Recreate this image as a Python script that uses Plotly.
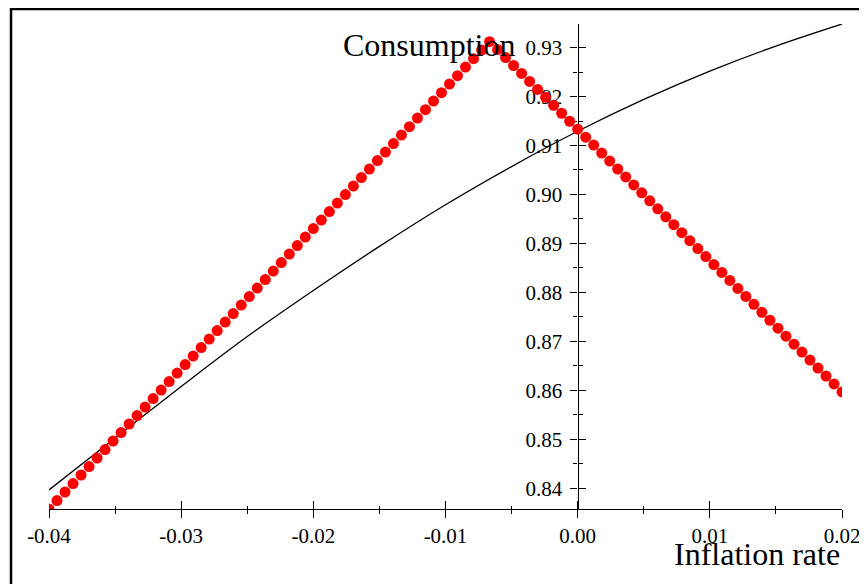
import plotly.graph_objects as go

# ---- data ----
curve_x = [-0.04, -0.035, -0.03, -0.025, -0.02, -0.015, -0.01, -0.005, 0.0, 0.005, 0.01, 0.015, 0.02]
curve_y = [0.8397, 0.8503, 0.8608, 0.8710, 0.8804, 0.8894, 0.8979, 0.9057, 0.9129, 0.9194, 0.9252, 0.9303, 0.9348]

dot_x = [-0.04, -0.039394, -0.038788, -0.038182, -0.037576, -0.03697, -0.036364, -0.035758, -0.035152, -0.034545,
         -0.033939, -0.033333, -0.032727, -0.032121, -0.031515, -0.030909, -0.030303, -0.029697, -0.029091, -0.028485,
         -0.027879, -0.027273, -0.026667, -0.026061, -0.025455, -0.024848, -0.024242, -0.023636, -0.02303, -0.022424,
         -0.021818, -0.021212, -0.020606, -0.02, -0.019394, -0.018788, -0.018182, -0.017576, -0.01697, -0.016364,
         -0.015758, -0.015152, -0.014545, -0.013939, -0.013333, -0.012727, -0.012121, -0.011515, -0.010909, -0.010303,
         -0.009697, -0.009091, -0.008485, -0.007879, -0.007273, -0.006667, -0.006061, -0.005455, -0.004848, -0.004242,
         -0.003636, -0.00303, -0.002424, -0.001818, -0.001212, -0.000606, 0.0, 0.000606, 0.001212, 0.001818,
         0.002424, 0.00303, 0.003636, 0.004242, 0.004848, 0.005455, 0.006061, 0.006667, 0.007273, 0.007879,
         0.008485, 0.009091, 0.009697, 0.010303, 0.010909, 0.011515, 0.012121, 0.012727, 0.013333, 0.013939,
         0.014545, 0.015152, 0.015758, 0.016364, 0.01697, 0.017576, 0.018182, 0.018788, 0.019394, 0.02]
dot_y = [0.8358, 0.83753, 0.83927, 0.841, 0.84274, 0.84447, 0.84621, 0.84794, 0.84968, 0.85141,
         0.85315, 0.85488, 0.85661, 0.85835, 0.86008, 0.86182, 0.86355, 0.86529, 0.86702, 0.86876,
         0.87049, 0.87223, 0.87396, 0.87569, 0.87743, 0.87916, 0.8809, 0.88263, 0.88437, 0.8861,
         0.88784, 0.88957, 0.89131, 0.89304, 0.89477, 0.89651, 0.89824, 0.89998, 0.90171, 0.90345,
         0.90518, 0.90692, 0.90865, 0.91039, 0.91212, 0.91385, 0.91559, 0.91732, 0.91906, 0.92079,
         0.92253, 0.92426, 0.926, 0.92773, 0.92947, 0.9312, 0.92958, 0.92795, 0.92633, 0.9247,
         0.92308, 0.92145, 0.91983, 0.9182, 0.91658, 0.91495, 0.91333, 0.9117, 0.91008, 0.90845,
         0.90683, 0.9052, 0.90358, 0.90195, 0.90033, 0.8987, 0.89708, 0.89545, 0.89383, 0.8922,
         0.89058, 0.88895, 0.88733, 0.8857, 0.88408, 0.88245, 0.88083, 0.8792, 0.87758, 0.87595,
         0.87433, 0.8727, 0.87108, 0.86945, 0.86783, 0.8662, 0.86458, 0.86295, 0.86133, 0.8597]

x_ticks = [-0.04, -0.03, -0.02, -0.01, 0.0, 0.01, 0.02]
x_tick_labels = ["-0.04", "-0.03", "-0.02", "-0.01", "0.00", "0.01", "0.02"]
x_minor = [-0.035, -0.025, -0.015, -0.005, 0.005, 0.015]
y_ticks = [0.84, 0.85, 0.86, 0.87, 0.88, 0.89, 0.90, 0.91, 0.92, 0.93]
y_tick_labels = ["0.84", "0.85", "0.86", "0.87", "0.88", "0.89", "0.90", "0.91", "0.92", "0.93"]
y_minor = [0.845, 0.855, 0.865, 0.875, 0.885, 0.895, 0.905, 0.915, 0.925]

x_range = [-0.04, 0.02]
y_range = [0.8358, 0.9348]

x_title = "Inflation rate"
y_title = "Consumption"

FONT = "Liberation Serif"

fig = go.Figure()
fig.add_trace(go.Scatter(x=curve_x, y=curve_y, mode="lines",
                         line=dict(color="black", width=1.3, shape="spline"),
                         xaxis="x", yaxis="y", showlegend=False, hoverinfo="skip"))
fig.add_trace(go.Scatter(x=dot_x, y=dot_y, mode="markers",
                         marker=dict(color="#ff0000", size=11, line=dict(width=0)),
                         xaxis="x2", yaxis="y2", showlegend=False))

tickfont = dict(family=FONT, size=21, color="black")

# page body has an 8px margin: the figure is sized/offset accordingly
fig.update_layout(
    width=859, height=576,
    margin=dict(l=41, r=25, t=16, b=75, autoexpand=False),
    paper_bgcolor="white", plot_bgcolor="white",
    showlegend=False,
    xaxis=dict(domain=[0, 1], range=x_range, anchor="y", showline=True, linecolor="black", linewidth=1.4,
               ticks="outside", ticklen=8, tickwidth=1.3, tickcolor="black",
               tickmode="array", tickvals=x_ticks, ticktext=x_tick_labels, tickfont=tickfont,
               minor=dict(ticks="outside", ticklen=3.5, tickwidth=1.3, tickcolor="black",
                          tickmode="array", tickvals=x_minor),
               showgrid=False, zeroline=False, layer="below traces"),
    xaxis2=dict(overlaying="x", range=x_range, anchor="y2", side="bottom", showline=False,
                ticks="inside", ticklen=8, tickwidth=1.3, tickcolor="black",
                tickmode="array", tickvals=x_ticks, showticklabels=False,
                minor=dict(ticks="inside", ticklen=3.5, tickwidth=1.3, tickcolor="black",
                           tickmode="array", tickvals=x_minor),
                showgrid=False, zeroline=False, layer="below traces"),
    yaxis=dict(domain=[0, 1], range=y_range, anchor="free", position=2/3, side="left",
               showline=True, linecolor="black", linewidth=1.4,
               ticks="outside", ticklen=7, tickwidth=1.3, tickcolor="black",
               tickmode="array", tickvals=y_ticks, ticktext=y_tick_labels, tickfont=tickfont,
               ticklabelstandoff=4,
               minor=dict(ticks="outside", ticklen=4.5, tickwidth=1.3, tickcolor="black",
                          tickmode="array", tickvals=y_minor),
               showgrid=False, zeroline=False, layer="below traces"),
    yaxis2=dict(overlaying="y", range=y_range, anchor="free", position=2/3, side="left",
                showline=False, ticks="inside", ticklen=7, tickwidth=1.3, tickcolor="black",
                tickmode="array", tickvals=y_ticks, showticklabels=False,
                minor=dict(ticks="inside", ticklen=4.5, tickwidth=1.3, tickcolor="black",
                           tickmode="array", tickvals=y_minor),
                showgrid=False, zeroline=False, layer="below traces"),
    annotations=[
        dict(text=y_title, xref="paper", yref="paper", x=0.5902, y=0.957, xanchor="right", yanchor="middle",
             showarrow=False, font=dict(family=FONT, size=32, color="black")),
        dict(text=x_title, xref="paper", yref="paper", x=1.0, y=-0.093, xanchor="right", yanchor="middle",
             showarrow=False, font=dict(family=FONT, size=32, color="black")),
    ],
    shapes=[
        dict(type="rect", xref="paper", yref="paper", x0=-0.0479, x1=1.2, y0=-0.4, y1=1.0309,
             line=dict(color="black", width=2.5), fillcolor="rgba(0,0,0,0)", layer="below"),
    ],
)

fig.write_html("out.html")
